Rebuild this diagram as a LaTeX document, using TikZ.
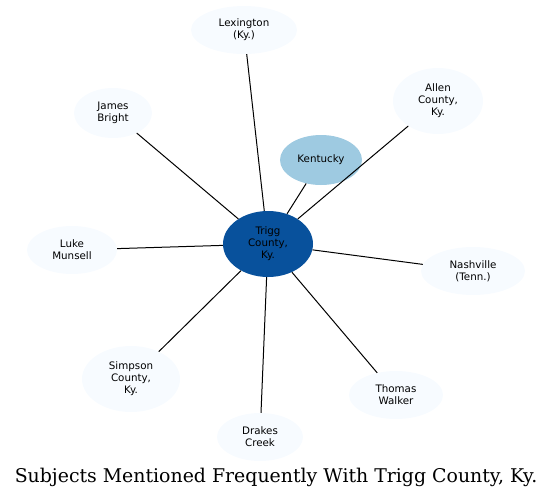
\documentclass[tikz,border=0pt]{standalone}
\usepackage{fontspec}
\setmainfont{DejaVu Sans}
\newfontfamily\titlefont{DejaVu Serif}
\usepackage{xcolor}
\usetikzlibrary{positioning,shapes.geometric}

\definecolor{hubblue}{HTML}{08519C}
\definecolor{midblue}{HTML}{9ECAE1}
\definecolor{paleblue}{HTML}{F7FBFF}

\begin{document}
\begin{tikzpicture}[
    x=1pt, y=-1pt,
    every node/.style={font=\fontsize{10.3}{12}\selectfont},
    topic/.style={ellipse, fill=paleblue, inner sep=0pt, align=center},
    link/.style={black, line width=1pt}
]
\useasboundingbox (0,0) rectangle (552,498);

% centre and direct neighbour
\node[ellipse, fill=hubblue, inner sep=0pt, minimum width=90pt, minimum height=66pt, align=center] (trigg) at (268,244) {Trigg\\County,\\Ky.};
\node[ellipse, fill=midblue, inner sep=0pt, minimum width=82pt, minimum height=50pt] (kentucky) at (321,160) {Kentucky};

% outer ring
\node[topic, minimum width=106pt, minimum height=48pt] (lexington) at (244,30) {Lexington\\(Ky.)};
\node[topic, minimum width=90pt, minimum height=66pt] (allen) at (438,101) {Allen\\County,\\Ky.};
\node[topic, minimum width=78pt, minimum height=50pt] (james) at (113,113) {James\\Bright};
\node[topic, minimum width=90pt, minimum height=48pt] (luke) at (72,250) {Luke\\Munsell};
\node[topic, minimum width=104pt, minimum height=48pt] (nashville) at (473,271) {Nashville\\(Tenn.)};
\node[topic, minimum width=98pt, minimum height=66pt] (simpson) at (131,379) {Simpson\\County,\\Ky.};
\node[topic, minimum width=94pt, minimum height=48pt] (thomas) at (396,395) {Thomas\\Walker};
\node[topic, minimum width=86pt, minimum height=48pt] (drakes) at (260,437) {Drakes\\Creek};

% spokes
\foreach \n in {kentucky,lexington,allen,james,luke,nashville,simpson,thomas,drakes}
    \draw[link] (trigg) -- (\n);

\node[font=\titlefont\fontsize{18.9}{20}\selectfont] (title) at (276,477) {Subjects Mentioned Frequently With Trigg County, Ky.};

\end{tikzpicture}
\end{document}
